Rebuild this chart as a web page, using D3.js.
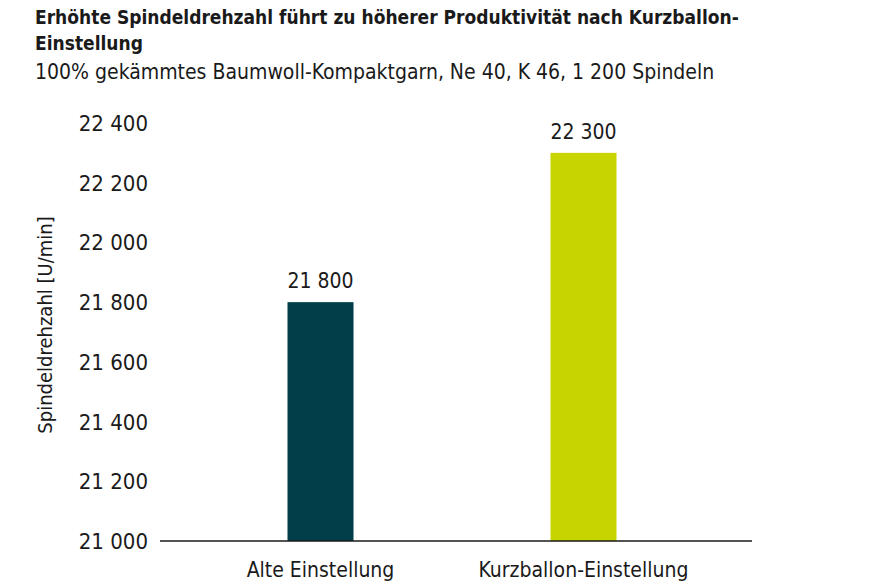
<!DOCTYPE html>
<html><head><meta charset="utf-8">
<script src="https://cdn.jsdelivr.net/npm/d3@7"></script>
<style>body{margin:0;background:#fff}text{font-family:"Liberation Sans Narrow","DejaVu Sans Condensed",sans-serif}</style>
</head><body>
<script>
var categories = ["Alte Einstellung", "Kurzballon-Einstellung"]
var values = [21800, 22300]
var valueLabels = ["21 800", "22 300"]
var tickValues = [21000, 21200, 21400, 21600, 21800, 22000, 22200, 22400]
var tickLabels = ["21 000", "21 200", "21 400", "21 600", "21 800", "22 000", "22 200", "22 400"]
var colors = ["#003f4a", "#c8d400"]

var svg = d3.select("body").append("svg").attr("width", 890).attr("height", 586)

svg.append("text").attr("x", 35).attr("y", 24).attr("font-size", 19).attr("font-weight", "bold")
  .attr("fill", "#1a1a1a").text("Erhöhte Spindeldrehzahl führt zu höherer Produktivität nach Kurzballon-")
svg.append("text").attr("x", 35).attr("y", 50).attr("font-size", 19).attr("font-weight", "bold")
  .attr("fill", "#1a1a1a").text("Einstellung")
svg.append("text").attr("x", 35).attr("y", 79).attr("font-size", 21)
  .attr("fill", "#1a1a1a").text("100% gekämmtes Baumwoll-Kompaktgarn, Ne 40, K 46, 1 200 Spindeln")

var y = d3.scaleLinear().domain([21000, 22400]).range([541, 123])
var x = d3.scaleBand().domain(categories).range([156, 748]).paddingInner(0.749).paddingOuter(0.5)

// y tick labels, no axis line
svg.selectAll(".tick").data(tickValues).enter().append("text")
  .attr("x", 148).attr("y", function(d){return y(d) + 8})
  .attr("text-anchor", "end").attr("font-size", 22).attr("fill", "#1a1a1a")
  .text(function(d, i){return tickLabels[i]})

svg.append("text").attr("transform", "translate(52,325) rotate(-90)")
  .attr("text-anchor", "middle").attr("font-size", 20).attr("fill", "#1a1a1a")
  .text("Spindeldrehzahl [U/min]")

svg.selectAll(".bar").data(values).enter().append("rect")
  .attr("x", function(d, i){return x(categories[i])})
  .attr("width", x.bandwidth())
  .attr("y", function(d){return y(d)})
  .attr("height", function(d){return y(21000) - y(d)})
  .attr("fill", function(d, i){return colors[i]})

svg.selectAll(".val").data(values).enter().append("text")
  .attr("x", function(d, i){return x(categories[i]) + x.bandwidth() / 2})
  .attr("y", function(d){return y(d) - 14})
  .attr("text-anchor", "middle").attr("font-size", 21).attr("fill", "#1a1a1a")
  .text(function(d, i){return valueLabels[i]})

svg.append("line").attr("x1", 160).attr("x2", 752).attr("y1", 541).attr("y2", 541)
  .attr("stroke", "#1a1a1a").attr("stroke-width", 1.5)

svg.selectAll(".cat").data(categories).enter().append("text")
  .attr("x", function(d){return x(d) + x.bandwidth() / 2})
  .attr("y", 577).attr("text-anchor", "middle").attr("font-size", 21).attr("fill", "#1a1a1a")
  .text(function(d){return d})
</script>
</body></html>
